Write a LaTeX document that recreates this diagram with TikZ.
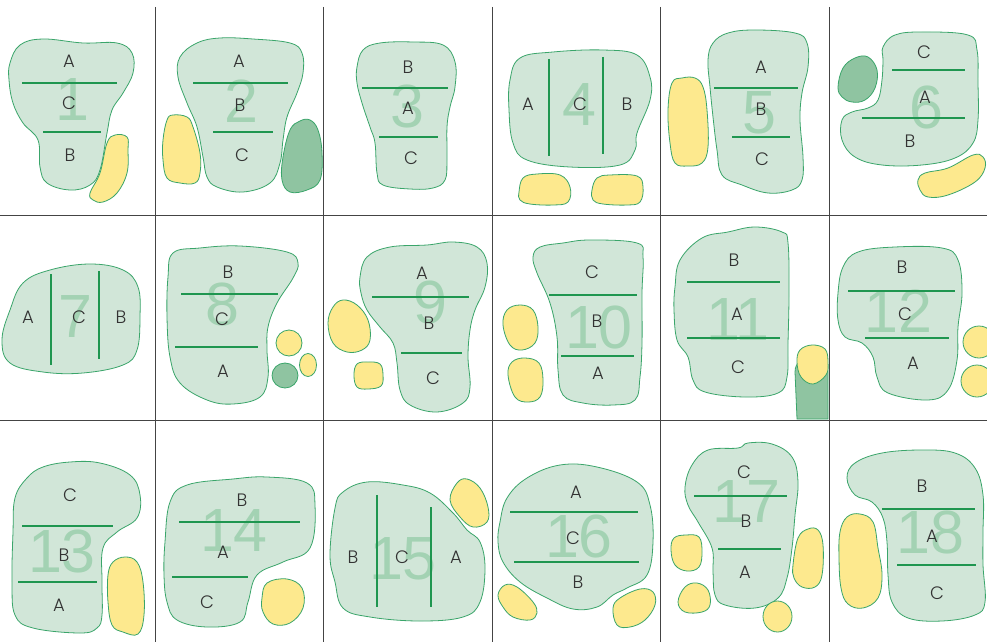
\documentclass[tikz,border=0pt]{standalone}
\usepackage{fontspec}
\newfontfamily\lblfont{Poppins Light}
\newfontfamily\numfont{Liberation Sans}
\definecolor{blobfill}{HTML}{D1E6D8}
\definecolor{blobdraw}{HTML}{3AA56A}
\definecolor{divcol}{HTML}{1F9650}
\definecolor{yelfill}{HTML}{FDE98E}
\definecolor{dkgfill}{HTML}{8FC4A1}
\definecolor{numcol}{HTML}{A3D2B3}
\definecolor{gridcol}{HTML}{444444}
\definecolor{txtcol}{HTML}{333333}
\begin{document}
\begin{tikzpicture}[x=1pt,y=-1pt,
  blob/.style={fill=blobfill,draw=blobdraw,line width=0.8pt},
  yel/.style={fill=yelfill,draw=blobdraw,line width=0.8pt},
  dkg/.style={fill=dkgfill,draw=blobdraw,line width=0.8pt},
  divl/.style={draw=divcol,line width=1.1pt},
  gridl/.style={draw=gridcol,line width=1pt},
  bsm/.style={smooth cycle,tension=0.65},
  lbl/.style={inner sep=0pt,text=txtcol,font=\lblfont\fontsize{18}{18}\selectfont},
  num/.style={inner sep=0pt,text=numcol,font=\numfont\fontsize{61}{61}\selectfont}]
\useasboundingbox (0,0) rectangle (987,642);
\fill[white] (0,0) rectangle (987,642);

% ---------- Cell 1 ----------
\draw[blob] plot[bsm] coordinates {(10,63)(20,45)(43,39)(83,43)(117,43)(132,53)(133,73)(123,93)(112,110)(107,133)(100,170)(90,185)(70,190)(47,183)(40,167)(38,140)(23,123)(13,103)(9,80)};
\draw[yel] plot[bsm] coordinates {(90,193)(100,173)(107,143)(115,135)(127,137)(128,150)(127,173)(117,193)(103,202)(93,200)};
\node[num] (n1) at (72,100) {1};
\draw[divl] (22,83) -- (117,83);
\draw[divl] (43,132) -- (101,132);
\node[lbl] (l1a) at (69,61) {A};
\node[lbl] (l1c) at (69,103) {C};
\node[lbl] (l1b) at (70,155) {B};

% ---------- Cell 2 ----------
\draw[blob] plot[bsm] coordinates {(180,57)(197,43)(220,38)(253,39)(290,43)(302,53)(303,73)(297,93)(287,117)(283,140)(280,163)(270,183)(243,192)(217,187)(207,177)(203,157)(197,127)(187,103)(178,77)};
\draw[yel] plot[bsm] coordinates {(163,140)(167,120)(173,115)(187,117)(193,127)(200,153)(200,173)(195,183)(180,183)(167,178)(163,160)};
\draw[dkg] plot[bsm] coordinates {(282,180)(283,157)(290,130)(300,121)(310,120)(318,130)(322,153)(320,180)(307,190)(290,192)};
\node[num] (n2) at (241,101) {2};
\draw[divl] (193,83) -- (288,83);
\draw[divl] (213,132) -- (273,132);
\node[lbl] (l2a) at (239,61) {A};
\node[lbl] (l2b) at (240,105) {B};
\node[lbl] (l2c) at (242,155) {C};

% ---------- Cell 3 ----------
\draw[blob] plot[bsm] coordinates {(357,67)(363,50)(380,43)(413,42)(443,45)(455,62)(455,87)(450,107)(447,127)(447,160)(445,180)(433,188)(410,189)(383,185)(377,173)(375,143)(370,127)(362,103)(357,83)};
\node[num] (n3) at (407,107) {3};
\draw[divl] (362,88) -- (448,88);
\draw[divl] (379,137) -- (438,137);
\node[lbl] (l3b) at (408,67) {B};
\node[lbl] (l3a) at (408,108) {A};
\node[lbl] (l3c) at (411,158) {C};

% ---------- Cell 4 ----------
\draw[blob] plot[bsm] coordinates {(510,80)(520,58)(553,52)(603,50)(637,55)(650,77)(650,100)(637,133)(635,150)(620,165)(570,167)(527,160)(513,143)(509,110)};
\draw[yel] plot[bsm] coordinates {(519,192)(523,178)(537,174)(560,175)(570,187)(568,202)(553,205)(530,204)(520,200)};
\draw[yel] plot[bsm] coordinates {(592,190)(597,178)(610,175)(637,176)(643,187)(640,202)(627,205)(603,204)(593,200)};
\node[num] (n4) at (579,105) {4};
\draw[divl] (549,59) -- (549,156);
\draw[divl] (603,57) -- (603,154);
\node[lbl] (l4a) at (528,104) {A};
\node[lbl] (l4c) at (580,104) {C};
\node[lbl] (l4b) at (627,104) {B};

% ---------- Cell 5 ----------
\draw[blob] plot[bsm] coordinates {(708,60)(713,43)(728,33)(755,30)(795,33)(807,43)(808,67)(802,93)(800,120)(803,157)(802,180)(792,190)(768,193)(742,185)(722,175)(717,150)(713,117)(710,87)};
\draw[yel] plot[bsm] coordinates {(668,110)(672,83)(682,78)(695,78)(703,87)(707,110)(708,147)(702,163)(688,166)(675,163)(670,143)};
\node[num] (n5) at (759,113) {5};
\draw[divl] (714,88) -- (798,88);
\draw[divl] (732,137) -- (790,137);
\node[lbl] (l5a) at (761,67) {A};
\node[lbl] (l5b) at (761,109) {B};
\node[lbl] (l5c) at (762,159) {C};

% ---------- Cell 6 ----------
\draw[blob] plot[bsm] coordinates {(883,47)(895,35)(922,32)(968,35)(977,50)(978,83)(978,120)(973,143)(955,158)(922,165)(882,165)(855,157)(842,140)(842,120)(852,112)(868,108)(878,100)(882,80)(883,60)};
\draw[dkg] plot[bsm] coordinates {(838,87)(843,68)(855,58)(868,57)(877,70)(875,88)(865,100)(852,102)(842,97)};
\draw[yel] plot[bsm] coordinates {(918,180)(925,173)(948,168)(973,155)(983,157)(985,168)(975,182)(948,195)(928,197)(920,190)};
\node[num] (n6) at (926,108) {6};
\draw[divl] (892,70) -- (965,70);
\draw[divl] (862,118) -- (965,118);
\node[lbl] (l6c) at (924,52) {C};
\node[lbl] (l6a) at (925,97) {A};
\node[lbl] (l6b) at (910,141) {B};

% ---------- Cell 7 ----------
\draw[blob] plot[bsm] coordinates {(2,340)(10,310)(23,283)(50,270)(90,264)(123,270)(138,287)(140,317)(137,350)(123,365)(83,373)(43,372)(10,363)};
\node[num] (n7) at (75,317) {7};
\draw[divl] (51,274) -- (51,365);
\draw[divl] (99,271) -- (99,359);
\node[lbl] (l7a) at (28,317) {A};
\node[lbl] (l7c) at (79,317) {C};
\node[lbl] (l7b) at (121,317) {B};

% ---------- Cell 8 ----------
\draw[blob] plot[bsm] coordinates {(168,277)(173,253)(200,248)(240,246)(287,252)(298,263)(293,278)(277,303)(268,327)(267,350)(268,377)(260,397)(233,404)(207,400)(180,383)(170,357)(167,317)};
\draw[yel] (289,343) ellipse [x radius=13,y radius=13];
\draw[yel] (308,365) ellipse [x radius=8.5,y radius=11.5];
\draw[dkg] (285,375.5) ellipse [x radius=13,y radius=12.5];
\node[num] (n8) at (222,304) {8};
\draw[divl] (181,294) -- (278,294);
\draw[divl] (175,347) -- (258,347);
\node[lbl] (l8b) at (228,272) {B};
\node[lbl] (l8c) at (222,319) {C};
\node[lbl] (l8a) at (223,371) {A};

% ---------- Cell 9 ----------
\draw[blob] plot[bsm] coordinates {(360,277)(367,257)(390,247)(427,245)(453,242)(477,247)(487,263)(485,287)(475,310)(470,330)(468,357)(470,387)(463,403)(437,412)(410,405)(400,390)(397,363)(393,343)(380,327)(367,310)(361,293)};
\draw[yel] plot[bsm] coordinates {(328,323)(333,307)(343,300)(357,305)(368,320)(370,340)(362,350)(347,352)(333,343)};
\draw[yel] plot[bsm] coordinates {(354,375)(357,364)(368,362)(380,364)(383,375)(381,386)(368,389)(357,387)};
\node[num] (n9) at (430,302) {9};
\draw[divl] (372,297) -- (469,297);
\draw[divl] (401,353) -- (462,353);
\node[lbl] (l9a) at (422,273) {A};
\node[lbl] (l9b) at (429,323) {B};
\node[lbl] (l9c) at (433,378) {C};

% ---------- Cell 10 ----------
\draw[blob] plot[bsm] coordinates {(533,257)(540,247)(563,243)(590,240)(637,243)(643,257)(642,293)(642,343)(640,377)(635,400)(613,405)(583,403)(563,395)(558,370)(557,337)(550,303)(537,273)};
\draw[yel] plot[bsm] coordinates {(503,325)(507,310)(520,305)(533,310)(538,327)(535,343)(522,350)(510,345)};
\draw[yel] plot[bsm] coordinates {(508,375)(512,362)(525,358)(539,363)(543,380)(540,397)(528,402)(515,397)};
\node[num] (n10) at (599,327) {10};
\draw[divl] (549,295) -- (637,295);
\draw[divl] (561,356) -- (634,356);
\node[lbl] (l10c) at (592,272) {C};
\node[lbl] (l10b) at (597,321) {B};
\node[lbl] (l10a) at (598,373) {A};

% ---------- Cell 11 ----------
\draw[blob] plot[bsm] coordinates {(675,287)(680,260)(702,238)(728,232)(755,227)(782,232)(788,243)(789,293)(788,343)(787,377)(778,393)(745,397)(705,392)(693,380)(688,357)(677,340)(674,310)};
\draw[dkg] (797,419) -- (795,372) .. controls (795,352) and (828,352) .. (828,372) -- (828,419) -- cycle;
\draw[yel] plot[bsm] coordinates {(797,362)(800,350)(812,345)(825,349)(828,362)(826,375)(813,384)(801,377)};
\node[num] (n11) at (738,320) {11};
\draw[divl] (687,282) -- (780,282);
\draw[divl] (687,338) -- (780,338);
\node[lbl] (l11b) at (734,260) {B};
\node[lbl] (l11a) at (737,314) {A};
\node[lbl] (l11c) at (738,367) {C};

% ---------- Cell 12 ----------
\draw[blob] plot[bsm] coordinates {(838,293)(843,267)(858,252)(895,247)(942,248)(958,260)(962,293)(958,327)(957,360)(948,390)(928,400)(888,393)(877,377)(873,357)(862,343)(845,337)(838,320)};
\begin{scope}
\clip (829,216) rectangle (987,420);
\draw[yel] (979,342) ellipse [x radius=16,y radius=16];
\draw[yel] (977,381) ellipse [x radius=16,y radius=16];
\end{scope}
\node[num] (n12) at (898,311) {12};
\draw[divl] (848,291) -- (955,291);
\draw[divl] (865,338) -- (949,338);
\node[lbl] (l12b) at (902,267) {B};
\node[lbl] (l12c) at (905,314) {C};
\node[lbl] (l12a) at (913,363) {A};

% ---------- Cell 13 ----------
\draw[blob] plot[bsm] coordinates {(15,498)(27,478)(43,467)(70,462)(100,463)(130,475)(140,495)(137,518)(117,532)(103,548)(102,582)(102,615)(97,628)(80,633)(33,628)(15,615)(12,582)(13,532)};
\draw[yel] plot[bsm] coordinates {(108,575)(113,562)(125,557)(137,562)(143,582)(144,615)(138,634)(123,632)(112,625)(108,602)};
\node[num] (n13) at (62,551) {13};
\draw[divl] (22,526) -- (113,526);
\draw[divl] (18,582) -- (97,582);
\node[lbl] (l13c) at (70,495) {C};
\node[lbl] (l13b) at (64,555) {B};
\node[lbl] (l13a) at (59,605) {A};

% ---------- Cell 14 ----------
\draw[blob] plot[bsm] coordinates {(165,542)(170,502)(187,485)(233,479)(267,477)(307,483)(315,505)(310,548)(283,562)(257,575)(248,602)(240,622)(207,627)(177,620)(167,602)(164,575)};
\draw[yel] plot[bsm] coordinates {(262,598)(267,583)(287,579)(302,588)(303,608)(290,623)(273,624)(263,612)};
\node[num] (n14) at (234,531) {14};
\draw[divl] (179,522) -- (300,522);
\draw[divl] (172,577) -- (248,577);
\node[lbl] (l14b) at (242,500) {B};
\node[lbl] (l14a) at (223,552) {A};
\node[lbl] (l14c) at (207,602) {C};

% ---------- Cell 15 ----------
\draw[blob] plot[bsm] coordinates {(330,555)(335,508)(343,492)(367,482)(403,485)(430,493)(453,513)(467,530)(480,542)(485,568)(480,602)(463,617)(420,621)(370,617)(343,608)(335,582)};
\draw[yel] plot[bsm] coordinates {(450,500)(457,483)(467,479)(480,488)(488,507)(487,522)(473,527)(460,517)};
\node[num] (n15) at (403,559) {15};
\draw[divl] (377,495) -- (377,607);
\draw[divl] (431,507) -- (431,607);
\node[lbl] (l15b) at (353,557) {B};
\node[lbl] (l15c) at (402,557) {C};
\node[lbl] (l15a) at (456,557) {A};

% ---------- Cell 16 ----------
\draw[blob] plot[bsm] coordinates {(500,522)(507,498)(527,478)(560,465)(597,467)(637,482)(650,505)(653,542)(647,575)(627,588)(613,595)(597,607)(573,609)(547,598)(520,582)(503,562)(498,542)};
\draw[yel] plot[bsm] coordinates {(498,595)(505,585)(517,587)(533,602)(537,613)(530,620)(513,617)(503,607)};
\draw[yel] plot[bsm] coordinates {(613,608)(620,598)(640,589)(653,592)(655,605)(645,620)(630,627)(617,625)};
\node[num] (n16) at (579,536) {16};
\draw[divl] (510,512) -- (638,512);
\draw[divl] (514,562) -- (639,562);
\node[lbl] (l16a) at (576,492) {A};
\node[lbl] (l16c) at (573,538) {C};
\node[lbl] (l16b) at (578,582) {B};

% ---------- Cell 17 ----------
\draw[blob] plot[bsm] coordinates {(685,487)(692,465)(708,450)(738,448)(748,443)(772,444)(792,457)(798,482)(795,515)(792,548)(787,578)(778,598)(755,608)(725,605)(715,595)(713,572)(712,548)(698,522)(688,505)};
\draw[yel] plot[bsm] coordinates {(671,550)(674,538)(686,535)(699,537)(702,552)(699,567)(687,571)(675,565)};
\draw[yel] plot[bsm] coordinates {(678,602)(685,587)(697,583)(708,590)(710,605)(702,612)(685,612)};
\draw[yel] (777.5,616.5) ellipse [x radius=14.5,y radius=15.5];
\draw[yel] plot[bsm] coordinates {(793,565)(798,538)(808,529)(818,530)(823,545)(822,575)(815,587)(802,587)(794,578)};
\node[num] (n17) at (746,502) {17};
\draw[divl] (694,496) -- (787,496);
\draw[divl] (718,549) -- (781,549);
\node[lbl] (l17c) at (744,472) {C};
\node[lbl] (l17b) at (746,521) {B};
\node[lbl] (l17a) at (745,572) {A};

% ---------- Cell 18 ----------
\draw[blob] plot[bsm] coordinates {(847,478)(855,463)(882,453)(922,450)(955,453)(975,468)(983,495)(983,532)(983,565)(985,602)(975,615)(942,621)(908,618)(892,602)(888,575)(887,542)(883,518)(872,502)(855,495)};
\draw[yel] plot[bsm] coordinates {(840,532)(847,517)(860,514)(873,522)(878,548)(882,575)(878,598)(863,608)(848,604)(841,588)(839,558)};
\node[num] (n18) at (930,532) {18};
\draw[divl] (882,509) -- (975,509);
\draw[divl] (897,565) -- (976,565);
\node[lbl] (l18b) at (922,486) {B};
\node[lbl] (l18a) at (932,536) {A};
\node[lbl] (l18c) at (937,593) {C};

% ---------- Grid ----------
\coordinate (g1t) at (155,7);   \coordinate (g1b) at (155,642);
\coordinate (g2t) at (323,7);   \coordinate (g2b) at (323,642);
\coordinate (g3t) at (492,7);   \coordinate (g3b) at (492,642);
\coordinate (g4t) at (660,7);   \coordinate (g4b) at (660,642);
\coordinate (g5t) at (829,7);   \coordinate (g5b) at (829,642);
\coordinate (h1l) at (0,215.5); \coordinate (h1r) at (987,215.5);
\coordinate (h2l) at (0,420.5); \coordinate (h2r) at (987,420.5);
\draw[gridl] (g1t) -- (g1b);
\draw[gridl] (g2t) -- (g2b);
\draw[gridl] (g3t) -- (g3b);
\draw[gridl] (g4t) -- (g4b);
\draw[gridl] (g5t) -- (g5b);
\draw[gridl] (h1l) -- (h1r);
\draw[gridl] (h2l) -- (h2r);
\end{tikzpicture}
\end{document}
